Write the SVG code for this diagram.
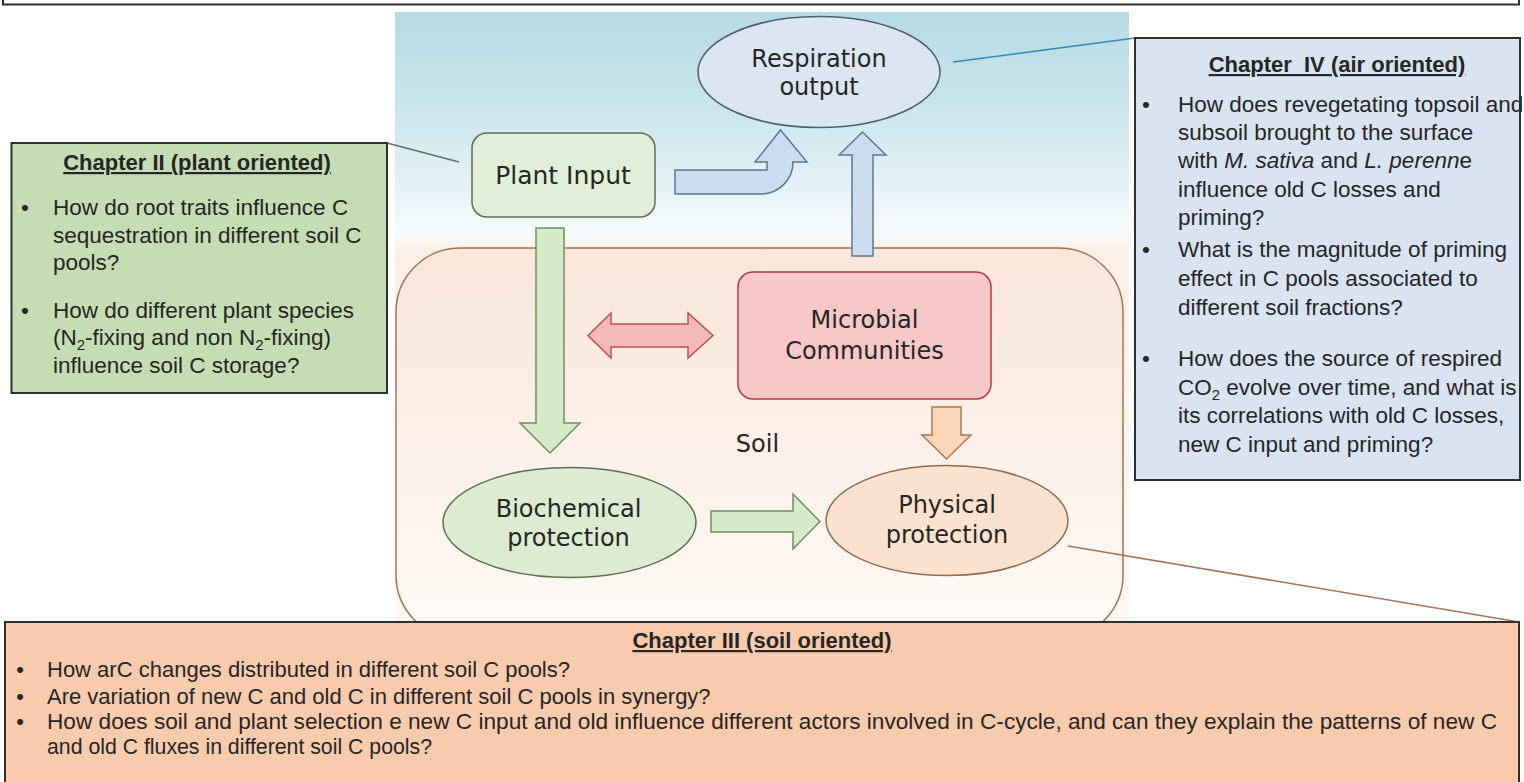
<svg xmlns="http://www.w3.org/2000/svg" width="1524" height="782" viewBox="0 0 1524 782">
<defs>
<linearGradient id="panelGrad" x1="0" y1="0" x2="0" y2="1">
<stop offset="0" stop-color="#b5dbe3"/>
<stop offset="0.15" stop-color="#c9e5ec"/>
<stop offset="0.3" stop-color="#e9f4f7"/>
<stop offset="0.36" stop-color="#f7fbfc"/>
<stop offset="0.39" stop-color="#fbefe6"/>
<stop offset="1" stop-color="#fdf7f2"/>
</linearGradient>
<linearGradient id="soilGrad" x1="0" y1="0" x2="0" y2="1">
<stop offset="0" stop-color="#f9e6d9"/>
<stop offset="1" stop-color="#fefaf7"/>
</linearGradient>
<style>
.lbl{font-family:"DejaVu Sans","Liberation Sans",sans-serif;font-size:24px;fill:#262626;text-anchor:middle}
.body{font-family:"Liberation Sans",Arial,sans-serif;font-size:22.5px;fill:#262626}
.body3{font-family:"Liberation Sans",Arial,sans-serif;font-size:22px;fill:#262626}
.ttl{font-family:"Liberation Sans",Arial,sans-serif;font-size:22px;font-weight:bold;fill:#262626;text-anchor:middle;text-decoration:underline}
.chap{stroke:#2f2f2f;stroke-width:2}
.conn{fill:none;stroke-width:1.5}
.garrow{fill:#d6e9c9;stroke:#6f8f60;stroke-width:1.5;stroke-linejoin:miter}
.barrow{fill:#cbdcef;stroke:#5a7898;stroke-width:1.5}
.parrow{fill:#f5b9b9;stroke:#c0504d;stroke-width:1.5}
.oarrow{fill:#fbd6b8;stroke:#a77a55;stroke-width:1.5}
</style>
</defs>

<!-- top cut-off box -->
<rect x="3" y="-30" width="1516" height="34.5" fill="#ffffff" class="chap"/>

<!-- background panel -->
<rect id="panel" x="395" y="12" width="734" height="618" fill="url(#panelGrad)"/>

<!-- soil box -->
<g id="soil">
<rect x="396" y="248" width="727" height="391" rx="64" ry="64" fill="url(#soilGrad)" stroke="#9a7658" stroke-width="1.5"/>
<text class="lbl" x="757.5" y="452">Soil</text>
</g>

<!-- connectors -->
<g id="connectors">
<line class="conn" x1="387" y1="143" x2="459" y2="162" stroke="#66705c"/>
<line class="conn" x1="953" y1="62" x2="1135" y2="38" stroke="#3a86b8"/>
<line class="conn" x1="1068" y1="546" x2="1519" y2="622" stroke="#a27555"/>
<path class="garrow" d="M536,228 L564,228 L564,423 L580,423 L550,453 L520,423 L536,423 Z"/>
<path class="barrow" d="M675,170 L767,170 L767,162 L755,162 L780.5,130 L807,162 L793,162 A32,32 0 0 1 761,194 L675,194 Z"/>
<path class="barrow" d="M852,256 L873,256 L873,155 L886,155 L862.5,132 L839,155 L852,155 Z"/>
<path class="parrow" d="M588,335.5 L611,313 L611,324 L688,324 L688,313 L713,335.5 L688,358 L688,347 L611,347 L611,358 Z"/>
<path class="oarrow" d="M932,407 L961,407 L961,435 L971,435 L946.5,459 L922,435 L932,435 Z"/>
<path class="garrow" d="M711,511 L793,511 L793,494 L820,521.5 L793,549 L793,532 L711,532 Z"/>
</g>

<!-- nodes -->
<g id="respiration">
<ellipse cx="819" cy="72" rx="121" ry="55.5" fill="#dce5f2" stroke="#4e5d70" stroke-width="1.5"/>
<text class="lbl" x="819" y="67">Respiration</text>
<text class="lbl" x="819" y="95">output</text>
</g>

<g id="plant-input">
<rect x="472" y="133" width="183" height="84" rx="15" ry="15" fill="#e2efd8" stroke="#5d6e50" stroke-width="1.5"/>
<text class="lbl" x="563" y="184" style="font-size:25px">Plant Input</text>
</g>

<g id="microbial">
<rect x="738" y="272" width="253" height="127" rx="15" ry="15" fill="#f8c7c7" stroke="#b03c3c" stroke-width="1.5"/>
<text class="lbl" x="864.5" y="328">Microbial</text>
<text class="lbl" x="864.5" y="359">Communities</text>
</g>

<g id="biochemical">
<ellipse cx="569.5" cy="522.5" rx="126.5" ry="55" fill="#dcebd2" stroke="#5c6f50" stroke-width="1.5"/>
<text class="lbl" x="568.5" y="517">Biochemical</text>
<text class="lbl" x="568.5" y="546">protection</text>
</g>

<g id="physical">
<ellipse cx="947" cy="520.5" rx="121" ry="55" fill="#fbe2cf" stroke="#8f6b4f" stroke-width="1.5"/>
<text class="lbl" x="947" y="513">Physical</text>
<text class="lbl" x="947" y="543">protection</text>
</g>

<!-- Chapter II -->
<g id="chapter-ii">
<rect x="11.5" y="143" width="375.5" height="250" fill="#c6ddb3" class="chap"/>
<text class="ttl" x="197" y="170">Chapter II (plant oriented)</text>
<text class="body" x="25" y="215" text-anchor="middle">•</text>
<text class="body" x="53" y="215">How do root traits influence C</text>
<text class="body" x="53" y="243">sequestration in different soil C</text>
<text class="body" x="53" y="270">pools?</text>
<text class="body" x="25" y="318" text-anchor="middle">•</text>
<text class="body" x="53" y="318">How do different plant species</text>
<text class="body" x="53" y="345">(N<tspan font-size="15" dy="5">2</tspan><tspan dy="-5">-fixing and non N</tspan><tspan font-size="15" dy="5">2</tspan><tspan dy="-5">-fixing)</tspan></text>
<text class="body" x="53" y="373">influence soil C storage?</text>
</g>

<!-- Chapter IV -->
<g id="chapter-iv">
<rect x="1135" y="38" width="385" height="442" fill="#dae3f1" class="chap"/>
<text class="ttl" x="1337" y="72">Chapter &#160;IV (air oriented)</text>
<text class="body" x="1146" y="112" text-anchor="middle">•</text>
<text class="body" x="1178" y="112">How does revegetating topsoil and</text>
<text class="body" x="1178" y="140">subsoil brought to the surface</text>
<text class="body" x="1178" y="168">with <tspan font-style="italic">M. sativa</tspan> and <tspan font-style="italic">L. perenn</tspan>e</text>
<text class="body" x="1178" y="197">influence old C losses and</text>
<text class="body" x="1178" y="225">priming?</text>
<text class="body" x="1146" y="257" text-anchor="middle">•</text>
<text class="body" x="1178" y="257">What is the magnitude of priming</text>
<text class="body" x="1178" y="286">effect in C pools associated to</text>
<text class="body" x="1178" y="315">different soil fractions?</text>
<text class="body" x="1146" y="366" text-anchor="middle">•</text>
<text class="body" x="1178" y="366">How does the source of respired</text>
<text class="body" x="1178" y="395">CO<tspan font-size="15" dy="5">2</tspan><tspan dy="-5"> evolve over time, and what is</tspan></text>
<text class="body" x="1178" y="423">its correlations with old C losses,</text>
<text class="body" x="1178" y="452">new C input and priming?</text>
</g>

<!-- Chapter III -->
<g id="chapter-iii">
<rect x="5" y="622" width="1514" height="200" fill="#f8cbad" class="chap"/>
<text class="ttl" x="762" y="648">Chapter III (soil oriented)</text>
<text class="body3" x="20" y="677" text-anchor="middle">•</text>
<text class="body3" x="47" y="677">How arC changes distributed in different soil C pools?</text>
<text class="body3" x="20" y="704" text-anchor="middle">•</text>
<text class="body3" x="47" y="704">Are variation of new C and old C in different soil C pools in synergy?</text>
<text class="body3" x="20" y="729" text-anchor="middle">•</text>
<text class="body3" x="47" y="729" textLength="1450" lengthAdjust="spacingAndGlyphs">How does soil and plant selection e new C input and old influence different actors involved in C-cycle, and can they explain the patterns of new C</text>
<text class="body3" x="47" y="754" textLength="385" lengthAdjust="spacingAndGlyphs">and old C fluxes in different soil C pools?</text>
</g>
</svg>
